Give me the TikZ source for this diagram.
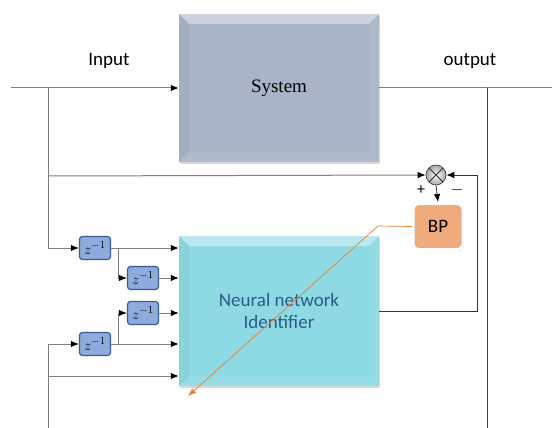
\documentclass[tikz,border=0pt]{standalone}
\usepackage{fontspec}
\setmainfont{Liberation Serif}
\newfontfamily\calfont{Carlito}
\usetikzlibrary{arrows.meta,shadows}
\definecolor{sysgray}{HTML}{A9B5C7}
\definecolor{nncyan}{HTML}{8DDAE4}
\definecolor{zblue}{HTML}{8FAADC}
\definecolor{zedge}{HTML}{3A5A94}
\definecolor{bporange}{HTML}{EFAB7C}
\definecolor{nntext}{HTML}{2B5B85}
\definecolor{wire}{HTML}{808080}
\definecolor{errline}{HTML}{ED7D31}
\tikzset{
  bevel/.style={path picture={
    \fill[white,opacity=0.4] (path picture bounding box.north west) -- (path picture bounding box.north east)
      -- ([xshift=-10pt,yshift=-10pt]path picture bounding box.north east) -- ([xshift=10pt,yshift=-10pt]path picture bounding box.north west) -- cycle;
    \fill[black,opacity=0.03] (path picture bounding box.north west) -- (path picture bounding box.south west)
      -- ([xshift=10pt,yshift=10pt]path picture bounding box.south west) -- ([xshift=10pt,yshift=-10pt]path picture bounding box.north west) -- cycle;
    \fill[white,opacity=0.05] (path picture bounding box.north east) -- (path picture bounding box.south east)
      -- ([xshift=-10pt,yshift=10pt]path picture bounding box.south east) -- ([xshift=-10pt,yshift=-10pt]path picture bounding box.north east) -- cycle;
    \fill[white,opacity=0.08] (path picture bounding box.south west) -- (path picture bounding box.south east)
      -- ([xshift=-10pt,yshift=10pt]path picture bounding box.south east) -- ([xshift=10pt,yshift=10pt]path picture bounding box.south west) -- cycle;
  }}
}
\begin{document}
\begin{tikzpicture}[x=1pt, y=-1pt,
  every node/.style={font=\calfont\fontsize{19}{22}\selectfont},
  sysbox/.style={bevel, fill=sysgray, minimum width=200pt, minimum height=148pt, inner sep=0pt,
    drop shadow={shadow xshift=1pt, shadow yshift=-2pt, fill=black!30, opacity=0.5}},
  nnbox/.style={bevel, fill=nncyan, minimum width=200pt, minimum height=150pt, inner sep=0pt, align=center,
    text=nntext, drop shadow={shadow xshift=1pt, shadow yshift=-2pt, fill=black!30, opacity=0.5}},
  delay/.style={draw=zedge, line width=1.2pt, fill=zblue, rounded corners=3pt, minimum width=31pt,
    minimum height=23pt, inner sep=0pt, font=\fontsize{15}{17}\selectfont},
  sumnode/.style={circle, draw=black!80, line width=0.6pt, inner sep=0pt, minimum size=20pt,
    inner color=white, outer color=black!35,
    path picture={\draw[black!80, line width=0.8pt] (path picture bounding box.north west) -- (path picture bounding box.south east)
      (path picture bounding box.north east) -- (path picture bounding box.south west);}},
  bpbox/.style={draw=white, line width=3pt, fill=bporange, rounded corners=6pt, minimum width=50pt,
    minimum height=46pt, drop shadow={shadow xshift=1pt, shadow yshift=-1.5pt, fill=black!40, opacity=0.5}},
  wire/.style={draw=wire, line width=1pt},
  tip/.style={-{Latex[length=8pt,width=6.5pt,color=black]}}
]
\useasboundingbox (0,0) rectangle (552,428);
% blocks
\node[sysbox, font=\rmfamily\fontsize{19}{22}\selectfont] (sys) at (279,88) {System};
\node[nnbox] (nn) at (279,311) {Neural network\\Identifier};
\node[delay] (z1) at (95,248) {$z^{-1}$};
\node[delay] (z2) at (143,278) {$z^{-1}$};
\node[delay] (z3) at (143,313) {$z^{-1}$};
\node[delay] (z4) at (95,344) {$z^{-1}$};
\node[sumnode] (cmp) at (436,175) {};
\node[bpbox] (bp) at (438,226.5) {BP};
% labels
\node (lin) at (109,61) {Input};
\node (lout) at (470,61) {output};
\node[font=\calfont\fontsize{16}{18}\selectfont] (plus) at (421,190) {+};
\node[font=\calfont\fontsize{16}{18}\selectfont] (minus) at (457,190) {$-$};
% branch points
\coordinate (inL) at (11,88);
\coordinate (a) at (48,88);
\coordinate (b) at (48,176);
\coordinate (s1) at (118,248);
\coordinate (s2) at (118,344);
\coordinate (d) at (48,428);
\coordinate (e) at (48,376);
\coordinate (outR) at (552,88);
\coordinate (o1) at (487,88);
\coordinate (o2) at (487,428);
\coordinate (fb) at (477,175);
\coordinate (bend) at (378,226);
\coordinate (hit) at (188,396);
% wires
\draw[wire, tip] (inL) -- (sys.west);
\draw[wire, tip] (a) |- (z1.west);
\draw[wire, tip] (b) -- (cmp.west);
\draw[wire, tip] (z1.east) -- (z1.east -| nn.west);
\draw[wire, tip] (s1) |- (z2.west);
\draw[wire, tip] (z2.east) -- (z2.east -| nn.west);
\draw[wire, tip] (z3.east) -- (z3.east -| nn.west);
\draw[wire, tip] (z4.east) -- (z4.east -| nn.west);
\draw[wire, tip] (s2) |- (z3.west);
\draw[wire, tip] (d) |- (z4.west);
\draw[wire, tip] (e) -- (e -| nn.west);
\draw[wire] (sys.east) -- (outR);
\draw[draw=black!75, line width=1pt] (o1) -- (o2);
\draw[draw=black!80, line width=1pt, tip] (nn.east) -| (fb) -- (cmp.east);
\draw[draw=black!80, line width=0.8pt, tip] (cmp.south) -- (bp.north);
\draw[errline, line width=0.7pt, -{Latex[length=8pt,width=6pt]}] (bp.west) -- (bend) -- (hit);
\end{tikzpicture}
\end{document}
